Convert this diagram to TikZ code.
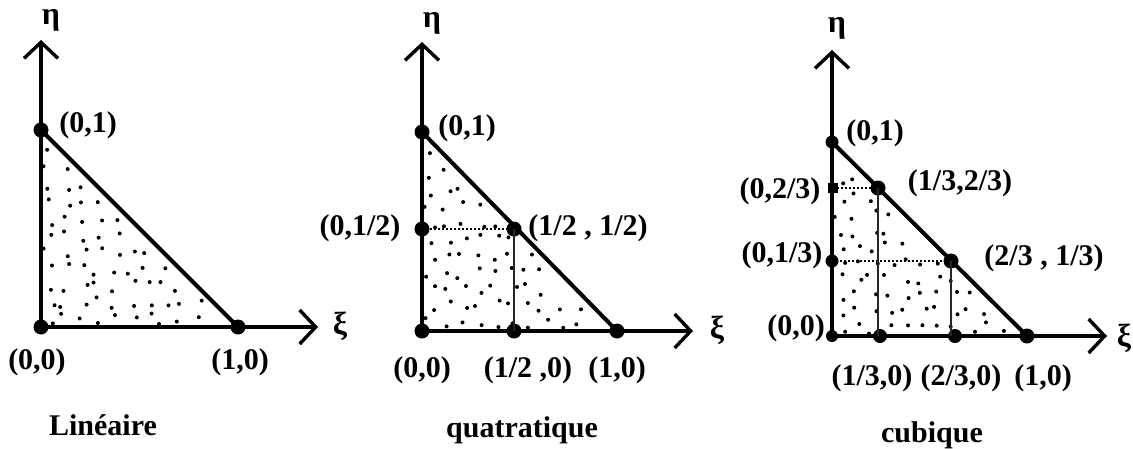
\documentclass[tikz,border=0pt]{standalone}
\usepackage{fontspec}
\setmainfont{Liberation Serif}
\usetikzlibrary{arrows.meta}
\tikzset{
  lbl/.style={inner sep=0pt, font=\fontsize{30}{32}\bfseries},
  captxt/.style={inner sep=0pt, font=\fontsize{30}{34}\bfseries},
  gr/.style={inner sep=0pt, font=\fontsize{32}{34}\bfseries},
  pt/.style={circle, fill=black, inner sep=0pt, minimum size=15pt},
  axis/.style={line width=3.4pt, -{Straight Barb[length=16pt,width=34pt,line width=3.4pt]}},
  edge/.style={line width=4pt},
  dotl/.style={line width=2pt, dotted},
  thinl/.style={line width=1.3pt, black!85}
}
\newcommand\mystipple[4]{%
  \foreach \gx in {0,...,11}{\foreach \gy in {0,...,11}{%
    \pgfmathsetmacro\px{(\gx+0.5+0.7*(rnd-0.5))/12}%
    \pgfmathsetmacro\py{(\gy+0.5+0.7*(rnd-0.5))/12}%
    \pgfmathtruncatemacro\ok{(\px+\py<0.95)?1:0}%
    \ifnum\ok=1 \fill (#1+\px*#3, #2-\py*#4) circle (2);\fi
  }}}
\begin{document}
\begin{tikzpicture}[x=1pt,y=-1pt]
\useasboundingbox (0,0) rectangle (1133,448);
\pgfmathsetseed{4711}
% ---------- Linéaire ----------
\mystipple{41}{327}{197}{197}
\node[pt] (O1) at (41,327) {};
\node[pt] (A1) at (41,130) {};
\node[pt] (B1) at (238,327) {};
\coordinate (E1) at (41,40);
\coordinate (X1) at (318,327);
\draw[axis] (O1.center) -- (E1);
\draw[axis] (O1.center) -- (X1);
\draw[edge] (A1.center) -- (B1.center);
\node[gr] (eta1) at (51,20) {η};
\node[gr] (xi1) at (340,326) {ξ};
\node[lbl] (lA1) at (88,125) {(0,1)};
\node[lbl] (lO1) at (37,362) {(0,0)};
\node[lbl] (lB1) at (240,362) {(1,0)};
\node[captxt] (t1) at (103,425) {Linéaire};
% ---------- quatratique ----------
\mystipple{422}{331}{195}{199}
\node[pt] (O2) at (422,331) {};
\node[pt] (A2) at (422,132) {};
\node[pt] (B2) at (617,331) {};
\node[pt] (M2) at (514,229) {};
\node[pt] (C2) at (422,229) {};
\node[pt] (D2) at (514,331) {};
\coordinate (E2) at (422,42);
\coordinate (X2) at (693,331);
\draw[axis] (O2.center) -- (E2);
\draw[axis] (O2.center) -- (X2);
\draw[edge] (A2.center) -- (B2.center);
\draw[dotl] (C2.center) -- (M2.center);
\draw[thinl] (M2.center) -- (D2.center);
\node[gr] (eta2) at (432,23) {η};
\node[gr] (xi2) at (717,330) {ξ};
\node[lbl] (lA2) at (467,128) {(0,1)};
\node[lbl] (lC2) at (360,228) {(0,1/2)};
\node[lbl] (lM2) at (588,228) {(1/2 , 1/2)};
\node[lbl] (lO2) at (422,370) {(0,0)};
\node[lbl] (lD2) at (528,370) {(1/2 ,0)};
\node[lbl] (lB2) at (617,370) {(1,0)};
\node[captxt] (t2) at (522,430) {quatratique};
% ---------- cubique ----------
\mystipple{832}{336}{195}{194}
\node[pt, minimum size=12pt] (O3) at (832,336) {};
\node[pt, minimum size=13pt] (A3) at (832,142) {};
\node[pt] (B3) at (1027,336) {};
\node[pt] (P3) at (878,188) {};
\node[pt] (Q3) at (951,261) {};
\node[pt, rectangle, minimum size=10pt] (C3) at (833,188) {};
\node[pt, minimum size=13pt] (D3) at (832,261) {};
\node[pt, minimum size=14pt] (F3) at (880,336) {};
\node[pt, minimum size=14pt] (G3) at (955,336) {};
\coordinate (E3) at (832,50);
\coordinate (X3) at (1107,336);
\draw[axis] (O3.center) -- (E3);
\draw[axis] (O3.center) -- (X3);
\draw[edge] (A3.center) -- (B3.center);
\draw[dotl] (C3.center) -- (P3.center);
\draw[dotl] (D3.center) -- (Q3.center);
\draw[thinl] (P3.center) -- (P3.center |- F3.center);
\draw[thinl] (Q3.center) -- (Q3.center |- G3.center);
\node[gr] (eta3) at (837,28) {η};
\node[gr] (xi3) at (1124,338) {ξ};
\node[lbl] (lA3) at (875,133) {(0,1)};
\node[lbl] (lP3) at (960,183) {(1/3,2/3)};
\node[lbl] (lC3) at (780,191) {(0,2/3)};
\node[lbl] (lD3) at (782,255) {(0,1/3)};
\node[lbl] (lQ3) at (1044,258) {(2/3 , 1/3)};
\node[lbl] (lO3) at (796,328) {(0,0)};
\node[lbl] (lF3) at (872,378) {(1/3,0)};
\node[lbl] (lG3) at (961,378) {(2/3,0)};
\node[lbl] (lB3) at (1043,378) {(1,0)};
\node[captxt] (t3) at (932,435) {cubique};
\end{tikzpicture}
\end{document}
